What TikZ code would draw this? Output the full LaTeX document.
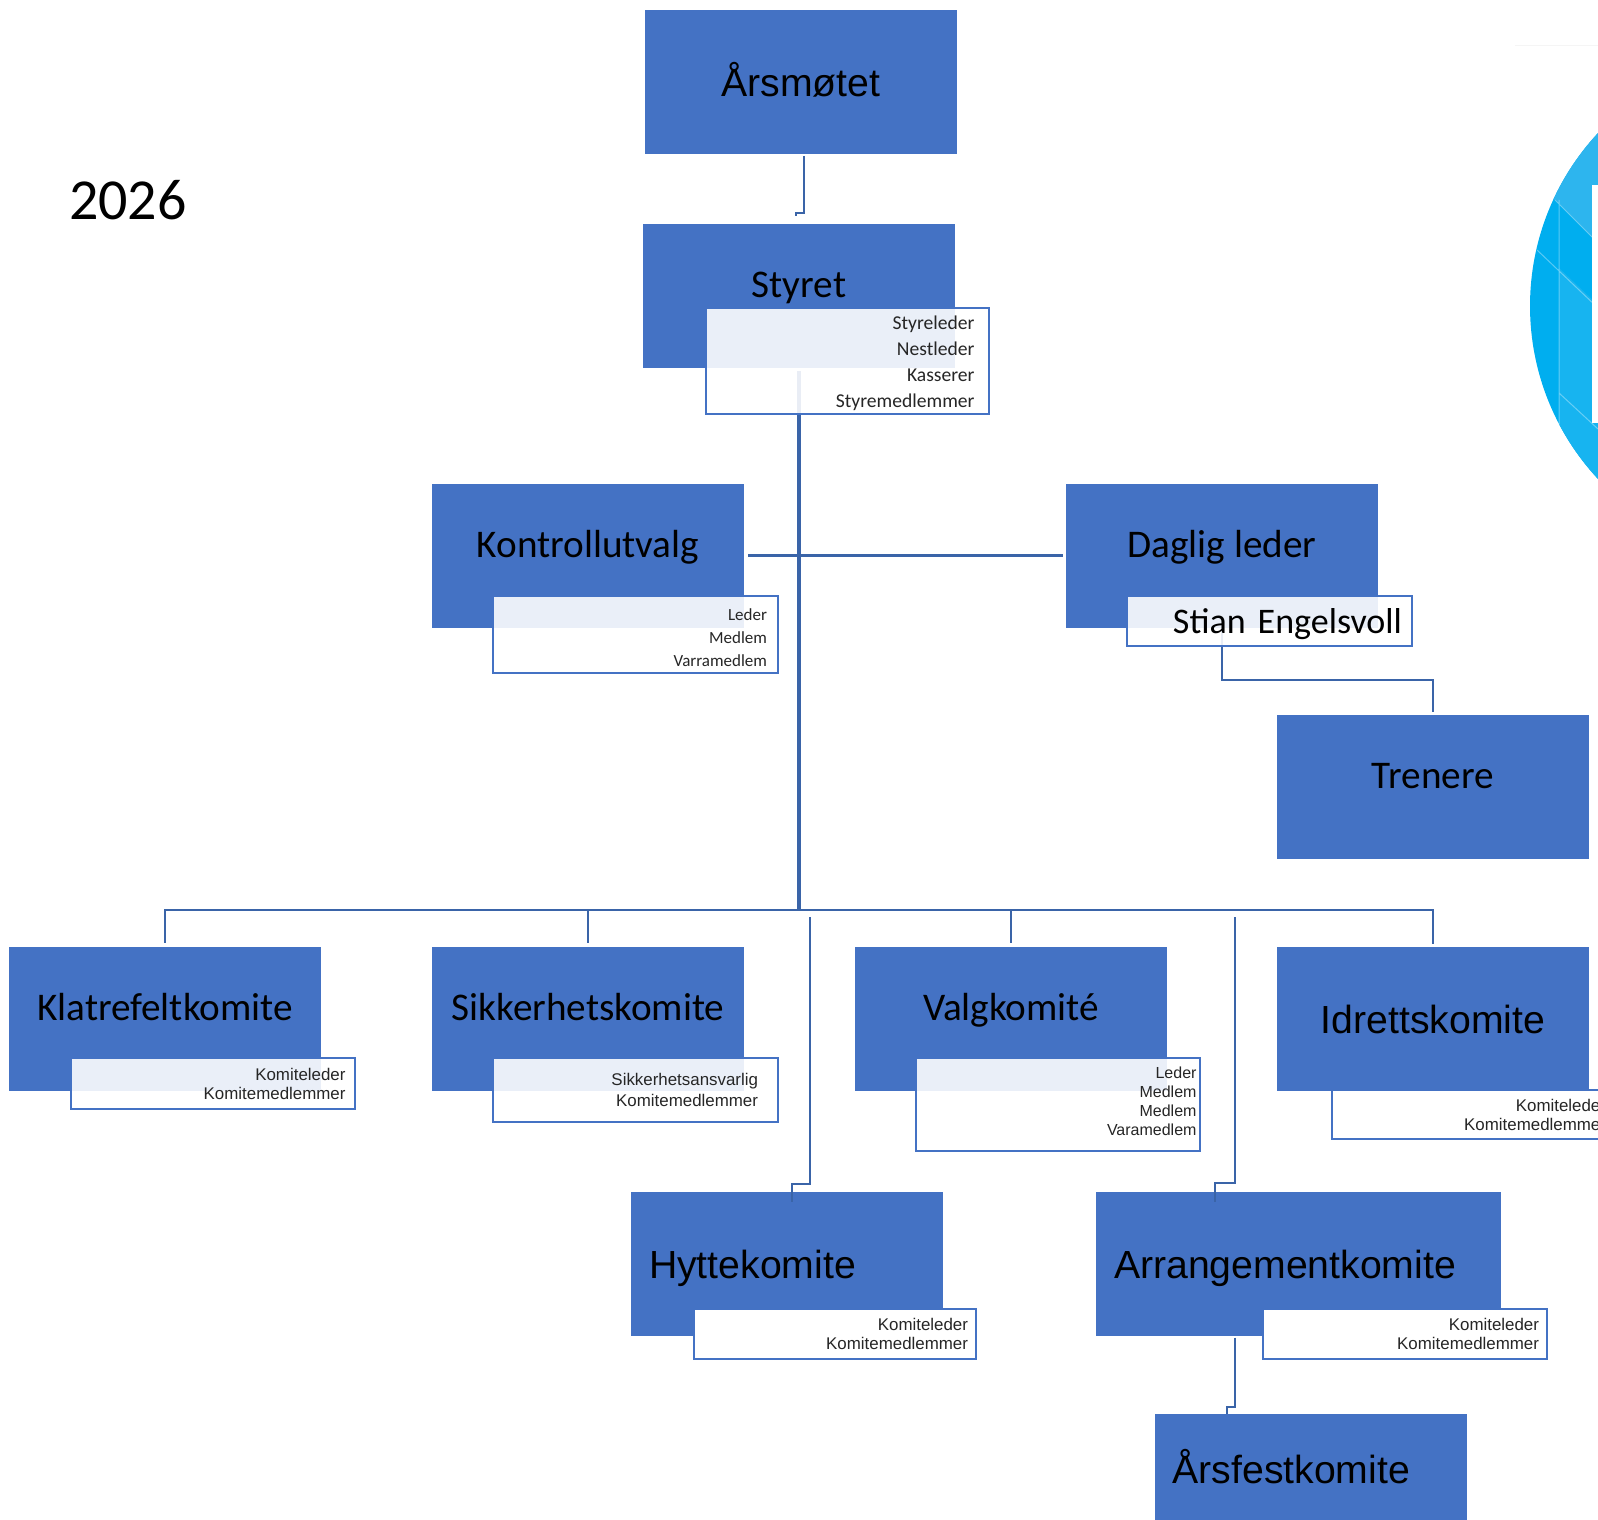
\documentclass[tikz,border=0pt]{standalone}
\usepackage{fontspec}
\setmainfont{Carlito}
\newfontfamily\arialfont{Liberation Sans}
\usetikzlibrary{positioning,calc}
\definecolor{boxblue}{HTML}{4472C4}
\definecolor{linkblue}{HTML}{3A64A8}
\tikzset{
  main/.style={rectangle, fill=boxblue, minimum width=156pt, minimum height=72pt, inner sep=0pt, outer sep=0pt, text=black, text height=19pt, text depth=4pt, font=\fontsize{19.6}{24}\selectfont},
  raised/.style={text depth=17.5pt},
  arial/.style={font=\arialfont\fontsize{19.6}{24}\selectfont},
  leftbox/.style={align=left, inner xsep=9pt},
  connect/.style={draw=linkblue, line width=1.4pt},
  trunk/.style={draw=linkblue, line width=2pt},
  info/.style={rectangle, draw=boxblue, line width=1.2pt, fill=white, anchor=north west, align=right, inner ysep=0pt, outer sep=0pt, text=black!85},
  seethrough/.style={fill opacity=0.89, text opacity=1},
  calibri/.style={font=\fontsize{9.8}{12.9}\selectfont, execute at begin node={\rule{0pt}{9.2pt}}},
  small/.style={font=\arialfont\fontsize{8.45}{9.5}\selectfont}
}
\begin{document}
\begin{tikzpicture}[x=0.5pt,y=-0.5pt]
  \useasboundingbox (0,0) rectangle (1598,1519);
  \clip (0,0) rectangle (1598,1519);

  % logo at the right edge
  \fill[black!4] (1515,45) rectangle (1598,46);
  \begin{scope}
    \clip (1784,306) circle [radius=254];
    \fill[fill={rgb,255:red,0;green,174;blue,239}] (1500,0) rectangle (1598,560);
    \fill[fill={rgb,255:red,45;green,181;blue,238}] (1500,0) -- (1598,0) -- (1598,243) -- (1555,200) -- (1500,200) -- cycle;
    \fill[fill={rgb,255:red,23;green,180;blue,240}] (1559,268) -- (1598,305) -- (1598,560) -- (1559,560) -- cycle;
    \draw[white,opacity=0.35,line width=0.5pt] (1559,200) -- (1559,430)
      (1555,200) -- (1598,243) (1537,250) -- (1598,308) (1559,393) -- (1598,429);
  \end{scope}
  \fill[white] (1592,185) rectangle (1598,423);

  \node[anchor=west,font=\fontsize{29}{34}\selectfont] (Year) at (62,200) {2026};

  \node[main,arial] (Arsmotet) at (801,82) {Årsmøtet};
  \node[main,raised] (Styret) [below=35pt of Arsmotet,xshift=-1pt] {Styret};
  \node[main,raised] (Kontrollutvalg) at (588,555.5) {Kontrollutvalg};
  \node[main,raised] (Daglig) [right=161pt of Kontrollutvalg] {Daglig leder};
  \node[main,raised] (Trenere) at (1433,786.5) {Trenere};

  \node[main,raised] (Klatre) at (165,1018.5) {Klatrefeltkomite};
  \node[main,raised] (Sikkerhet) [right=55.5pt of Klatre] {Sikkerhetskomite};
  \node[main,raised] (Valg) [right=55.5pt of Sikkerhet] {Valgkomité};
  \node[main,arial] (Idrett) [right=55pt of Valg] {Idrettskomite};

  \node[main,arial,leftbox,text width=138pt] (Hytte) at (787,1263.5) {Hyttekomite};
  \node[main,arial,leftbox,text width=184.5pt] (Arrangement) at (1298.5,1263.5) {Arrangementkomite};
  \node[main,arial,leftbox,text width=138pt,minimum height=54pt] (Arsfest) at (1310.5,1468) {Årsfestkomite};

  \coordinate (Bus) at (800,910);
  \coordinate (ArsBend) at (796,213);
  \coordinate (ArsEnd) at (796,216);
  \coordinate (TrenereBend) at (1224,680);
  \coordinate (HytteTop) at (810,917);
  \coordinate (HytteBend) at (792,1184);
  \coordinate (HytteEnd) at (792,1202);
  \coordinate (ArrTop) at (1235,917);
  \coordinate (ArrBend) at (1215,1183);
  \coordinate (ArrEnd) at (1215,1202);
  \coordinate (FestBend) at (1227,1407);
  \coordinate (FestEnd) at (1227,1414);

  \draw[connect,shorten <=1pt] ($(Arsmotet.south)+(3,0)$) |- (ArsBend) -- (ArsEnd);
  \draw[trunk,shorten <=1.5pt] (Styret.south) -- (Styret.south |- Bus);
  \draw[connect,shorten >=1.5pt,shorten <=2pt] (Kontrollutvalg.east) -- (Daglig.west);
  \draw[connect,shorten >=1.5pt] (Daglig.south) |- (TrenereBend) -| (Trenere.north);

  \draw[connect,shorten <=2pt,shorten >=1.5pt] (Klatre.north) |- (Bus) -| (Idrett.north);
  \draw[connect,shorten <=2pt] (Sikkerhet.north) -- (Sikkerhet.north |- Bus);
  \draw[connect,shorten <=2pt] (Valg.north) -- (Valg.north |- Bus);
  \draw[connect] (HytteTop) |- (HytteBend) -- (HytteEnd);
  \draw[connect] (ArrTop) |- (ArrBend) -- (ArrEnd);
  \draw[connect,shorten <=1pt] (Arrangement.south -| ArrTop) |- (FestBend) -- (FestEnd);

  \node[info,seethrough,calibri,text width=127pt,minimum height=53pt,inner xsep=7.25pt] (StyretInfo) at (706,308)
    {Styreleder\\Nestleder\\Kasserer\\Styremedlemmer};
  \node[info,seethrough,calibri,font=\fontsize{8.5}{11.5}\selectfont,text width=131.5pt,minimum height=38.5pt,inner xsep=5.5pt] (KontrollInfo) at (493,596)
    {Leder\\Medlem\\Varramedlem};
  \node[info,seethrough,text=black,font=\fontsize{18}{22}\selectfont,text width=132.5pt,minimum height=25pt,inner xsep=5pt] (DagligInfo) at (1127,596)
    {\rule{0pt}{16pt}Stian Engelsvoll};

  \node[info,seethrough,small,text width=132.5pt,minimum height=25.5pt,inner xsep=4.75pt] (KlatreInfo) at (71,1058)
    {Komiteleder\\Komitemedlemmer};
  \node[info,seethrough,small,font=\arialfont\fontsize{8.45}{10.5}\selectfont,text width=122.5pt,minimum height=32pt,inner xsep=10pt] (SikkerhetInfo) at (493,1058)
    {Sikkerhetsansvarlig\\Komitemedlemmer};
  \node[info,seethrough,small,font=\arialfont\fontsize{8}{9.5}\selectfont,text width=138.5pt,minimum height=46.5pt,inner xsep=1.75pt] (ValgInfo) at (916,1058)
    {Leder\\Medlem\\Medlem\\Varamedlem\rule[-3pt]{0pt}{0pt}};
  \node[info,small,text width=132pt,minimum height=24.5pt,inner xsep=5pt] (IdrettInfo) at (1332,1090)
    {Komiteleder\\Komitemedlemmer};
  \node[info,small,text width=133pt,minimum height=25pt,inner xsep=4pt] (HytteInfo) at (694,1309)
    {Komiteleder\\Komitemedlemmer};
  \node[info,small,text width=134pt,minimum height=25pt,inner xsep=4pt] (ArrangementInfo) at (1263,1309)
    {Komiteleder\\Komitemedlemmer};
\end{tikzpicture}
\end{document}
